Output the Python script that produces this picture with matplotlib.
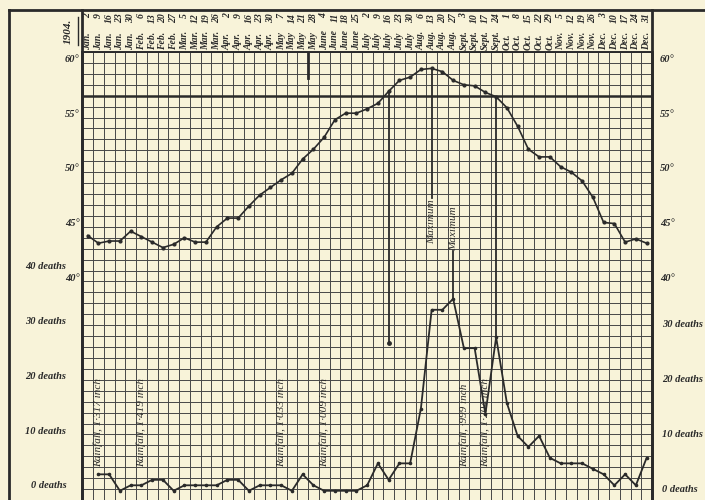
import numpy as np
import matplotlib
matplotlib.use("Agg")
import matplotlib.pyplot as plt
from matplotlib.lines import Line2D

# Settimane del 1904 (sabati)
dates = ["Jan. 2", "Jan. 9", "Jan. 16", "Jan. 23", "Jan. 30", "Feb. 6", "Feb. 13",
         "Feb. 20", "Feb. 27", "Mar. 5", "Mar. 12", "Mar. 19", "Mar. 26", "Apr. 2",
         "Apr. 9", "Apr. 16", "Apr. 23", "Apr. 30", "May 7", "May 14", "May 21",
         "May 28", "June 4", "June 11", "June 18", "June 25", "July 2", "July 9",
         "July 16", "July 23", "July 30", "Aug. 6", "Aug. 13", "Aug. 20", "Aug. 27",
         "Sept. 3", "Sept. 10", "Sept. 17", "Sept. 24", "Oct. 1", "Oct. 8", "Oct. 15",
         "Oct. 22", "Oct. 29", "Nov. 5", "Nov. 12", "Nov. 19", "Nov. 26", "Dec. 3",
         "Dec. 10", "Dec. 17", "Dec. 24", "Dec. 31"]

# Temperatura (gradi F), una per settimana
temp = [44.2, 43.5, 43.7, 43.7, 44.6, 44.1, 43.6, 43.1, 43.4, 44.0, 43.6, 43.6,
        45.0, 45.8, 45.8, 46.9, 47.9, 48.6, 49.3, 49.9, 51.2, 52.1, 53.2, 54.8,
        55.4, 55.4, 55.8, 56.3, 57.4, 58.4, 58.7, 59.4, 59.5, 59.2, 58.4, 58.0,
        57.9, 57.3, 56.9, 55.9, 54.2, 52.1, 51.4, 51.4, 50.5, 50.0, 49.2, 47.7,
        45.4, 45.3, 43.6, 43.9, 43.5]

# Morti settimanali (dal 9 gennaio)
deaths = [3, 3, 0, 1, 1, 2, 2, 0, 1, 1, 1, 1, 2, 2, 0, 1, 1, 1, 0, 3, 1, 0, 0, 0,
          0, 1, 5, 2, 5, 5, 15, 33, 33, 35, 26, 26, 14, 28, 16, 10, 8, 10, 6, 5,
          5, 5, 4, 3, 1, 3, 1, 6]

# Piogge segnalate
rain_weeks = [1, 5, 18, 22, 35, 37]
rain_amounts = ["1·317", "1·419", "1·033", "1·009", "·999", "1·204"]

temp_ticks = [60, 55, 50, 45, 40]
death_ticks_left = [40, 30, 20, 10, 0]
death_ticks_right = [30, 20, 10, 0]
marker_deaths = 27   # punto segnato sotto la linea di luglio

weeks = np.arange(len(dates)) + 0.5
death_weeks = weeks[1:]

ink = "#2a2a2a"
paper = "#f8f3d9"
serif = "Liberation Serif"

fig = plt.figure(figsize=(7.05, 5.0), dpi=100, facecolor=paper)
ax = fig.add_axes([82.3 / 705, 0, (652 - 82.3) / 705, 448 / 500])
ax.set_facecolor(paper)

t_lo, t_hi = 20.16, 61
ax.set_xlim(0, len(dates))
ax.set_ylim(t_lo, t_hi)

# reticolo
ax.set_xticks(np.arange(len(dates) + 1))
ax.set_yticks(np.arange(20, 62))
ax.tick_params(length=0, labelleft=False, labelbottom=False)
ax.grid(True, color="#474747", lw=0.7)
ax.axhline(57, color=ink, lw=1.8)
for s in ["left", "right"]:
    ax.spines[s].set_linewidth(2)
    ax.spines[s].set_color(ink)
ax.spines["top"].set_linewidth(1.4)
ax.spines["top"].set_color(ink)
ax.spines["bottom"].set_visible(False)

# bordi verticali prolungati fino alla cornice
xt = ax.get_xaxis_transform()
for xb in [0, len(dates)]:
    ax.plot([xb, xb], [0, 1.094], transform=xt, color=ink, lw=2, clip_on=False)
ax.plot([21, 21], [58.6, 61], color=ink, lw=2)

# cornice esterna
fig.add_artist(Line2D([9 / 705, 1], [0.98, 0.98], transform=fig.transFigure, color=ink, lw=2))
fig.add_artist(Line2D([9 / 705, 9 / 705], [0, 0.98], transform=fig.transFigure, color=ink, lw=2))
fig.text(68 / 705, 1 - 31 / 500, "1904.", rotation=90, ha="center", va="center",
         family=serif, style="italic", weight="bold", fontsize=8, color=ink)
fig.add_artist(Line2D([78 / 705, 78 / 705], [1 - 17 / 500, 1 - 45 / 500],
                      transform=fig.transFigure, color=ink, lw=1))

# intestazione con le date
for x, d in zip(weeks, dates):
    month, day = d.rsplit(" ", 1)
    ax.text(x, 1.0045, month, rotation=90, ha="center", va="bottom", transform=xt,
            family=serif, style="italic", weight="bold", fontsize=7, color=ink)
    ax.text(x, 1.087, day, rotation=90, ha="center", va="top", transform=xt,
            family=serif, style="italic", weight="bold", fontsize=7, color=ink)

# curva della temperatura
ax.plot(weeks, temp, color=ink, lw=1.2, marker="o", ms=2)

# asse dei morti
ax2 = ax.twinx()
ax2.set_ylim(2 * (t_lo - 21), 2 * (t_hi - 21))
ax2.axis("off")
ax2.plot(death_weeks, deaths, color=ink, lw=1.3, marker="o", ms=1.6)

lab = dict(family=serif, style="italic", weight="bold", fontsize=7.5, color=ink)
yt = ax.get_yaxis_transform()
yt2 = ax2.get_yaxis_transform()
for t in temp_ticks:
    ax.text(-0.005, t + 0.3, f"{t}°", ha="right", va="center", transform=yt, **lab)
    ax.text(1.014, t + 0.3, f"{t}°", ha="left", va="center", transform=yt, **lab)
for d in death_ticks_left:
    ax2.text(-0.028, d + 0.9, f"{d} deaths", ha="right", va="center", transform=yt2, **lab)
for d in death_ticks_right:
    ax2.text(1.017, d + 0.3, f"{d} deaths", ha="left", va="center", transform=yt2, **lab)

# piogge
for w, r in zip(rain_weeks, rain_amounts):
    ax2.text(w + 0.5, 4.4, f"Rainfall, {r} inch", rotation=90, ha="center", va="bottom",
             family=serif, style="italic", fontsize=8, color=ink)

# linee di riferimento
i_a = 28
ax.plot([weeks[i_a]] * 2, [temp[i_a], 21 + marker_deaths / 2], color=ink, lw=1.3)
ax2.plot(weeks[i_a], marker_deaths, "o", color=ink, ms=2.5)

i_tmax = int(np.argmax(temp))
ax.plot([weeks[i_tmax]] * 2, [temp[i_tmax], 47.6], color=ink, lw=1.3)
ax.text(weeks[i_tmax], 47.5, "Maximum", rotation=90, ha="center", va="top",
        family=serif, style="italic", fontsize=8, color=ink)

i_dmax = int(np.argmax(deaths))
ax2.plot([death_weeks[i_dmax]] * 2, [deaths[i_dmax], 43.8], color=ink, lw=1.3)
ax2.text(death_weeks[i_dmax], 43.8, "Maximum", rotation=90, ha="center", va="bottom",
         family=serif, style="italic", fontsize=8, color=ink)

i_d = 38
ax.plot([weeks[i_d]] * 2, [temp[i_d], 21 + deaths[i_d - 1] / 2], color=ink, lw=1.3)

fig.savefig("out.png", dpi=100, facecolor=paper)
